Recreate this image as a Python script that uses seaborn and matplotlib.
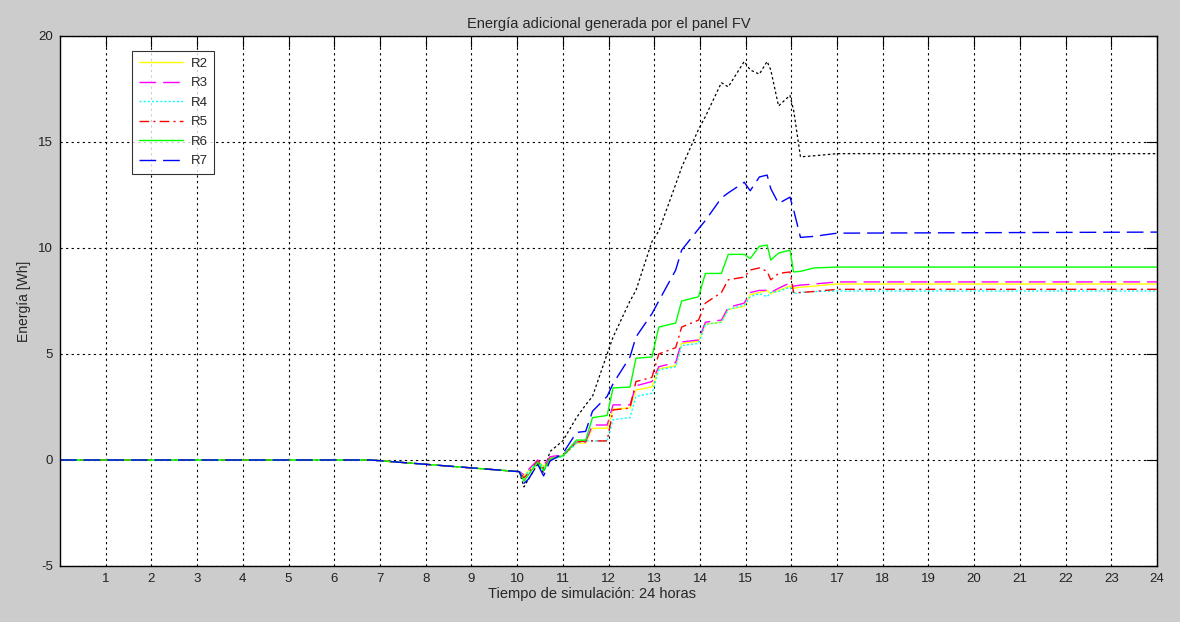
import pandas as pd
import matplotlib.pyplot as plt
import seaborn as sns

# datos
t = [0, 6.8, 10.05, 10.15, 10.25, 10.45, 10.58, 10.72, 11.0, 11.3, 11.5, 11.65,
     11.97, 12.1, 12.47, 12.6, 12.95, 13.1, 13.47, 13.6, 13.97, 14.12, 14.47, 14.62,
     14.97, 15.1, 15.3, 15.47, 15.55, 15.72, 15.97, 16.05, 16.2, 16.5, 17.0, 24.0]

r2 = [0, 0, -0.55, -0.75, -0.5, -0.05, -0.3, 0.1, 0.2, 0.8, 0.8, 1.5,
      1.5, 2.4, 2.45, 3.3, 3.45, 4.3, 4.45, 5.5, 5.6, 6.4, 6.5, 7.1,
      7.25, 7.8, 7.9, 8.0, 7.85, 8.0, 8.2, 8.1, 8.15, 8.2, 8.3, 8.3]
r3 = [0, 0, -0.55, -0.7, -0.45, 0.0, -0.25, 0.15, 0.25, 0.85, 0.85, 1.65,
      1.65, 2.6, 2.6, 3.5, 3.7, 4.4, 4.6, 5.57, 5.66, 6.5, 6.6, 7.2,
      7.4, 7.9, 8.0, 8.0, 7.9, 8.1, 8.35, 8.2, 8.25, 8.3, 8.4, 8.4]
r4 = [0, 0, -0.55, -0.8, -0.55, -0.05, -0.35, 0.05, 0.15, 0.8, 0.9, 0.9,
      0.9, 1.9, 2.0, 3.0, 3.15, 4.25, 4.4, 5.4, 5.5, 6.4, 6.5, 7.1,
      7.3, 7.7, 7.85, 7.7, 7.9, 7.95, 8.15, 7.85, 7.9, 7.95, 7.97, 7.97]
r5 = [0, 0, -0.55, -0.85, -0.6, -0.05, -0.4, 0.05, 0.2, 0.85, 0.9, 0.9,
      0.9, 2.36, 2.45, 3.7, 3.9, 5.0, 5.3, 6.27, 6.6, 7.4, 7.9, 8.5,
      8.63, 8.96, 9.06, 8.9, 8.5, 8.8, 8.87, 7.9, 7.9, 7.95, 8.05, 8.05]
r6 = [0, 0, -0.55, -1.0, -0.7, -0.1, -0.5, 0.05, 0.2, 0.94, 0.94, 2.0,
      2.1, 3.4, 3.44, 4.8, 4.86, 6.27, 6.46, 7.5, 7.7, 8.8, 8.8, 9.7,
      9.7, 9.5, 10.08, 10.14, 9.43, 9.76, 9.9, 8.87, 8.9, 9.06, 9.1, 9.1]
r7 = [0, 0, -0.55, -1.1, -0.9, -0.2, -0.75, -0.05, 0.3, 1.3, 1.35, 2.3,
      3.0, 3.6, 4.86, 5.8, 6.9, 7.5, 8.96, 9.9, 10.9, 11.3, 12.36, 12.6,
      13.1, 12.7, 13.35, 13.44, 12.8, 12.1, 12.4, 11.8, 10.5, 10.55, 10.7, 10.75]
r8 = [0, 0, -0.55, -1.27, -0.9, -0.2, -0.6, 0.4, 0.9, 2.0, 2.6, 3.0,
      5.0, 5.8, 7.5, 8.0, 10.3, 10.8, 13.0, 13.8, 15.6, 16.2, 17.8, 17.6,
      18.8, 18.4, 18.2, 18.8, 18.4, 16.7, 17.2, 16.5, 14.3, 14.35, 14.45, 14.45]

series = ['R2', 'R3', 'R4', 'R5', 'R6', 'R7']
valores = [r2, r3, r4, r5, r6, r7]
colores = ['#ffff00', '#ff00ff', '#00ffff', '#ff0000', '#00ff00', '#0000ff']
estilos = ['-', (0, (12, 5)), (0, (1.5, 1.5)), (0, (7, 3, 1.5, 3)), '-', (0, (12, 5))]

df = pd.DataFrame({'t': t, 'R8': r8})
for nombre, v in zip(series, valores):
    df[nombre] = v

sns.set_style('white')
plt.rcParams['font.family'] = ['Liberation Sans', 'DejaVu Sans']
plt.rcParams['axes.unicode_minus'] = False

fig = plt.figure(figsize=(11.8, 6.22), dpi=100, facecolor='#cccccc')
ax = fig.add_axes([60 / 1180, 1 - 566 / 622, 1097 / 1180, 530 / 622])
ax.set_facecolor('white')

# curva negra (sin leyenda)
sns.lineplot(data=df, x='t', y='R8', color='black', linewidth=0.9,
             linestyle=(0, (2, 2)), ax=ax, label='_nolegend_')

for nombre, c, ls in zip(series, colores, estilos):
    sns.lineplot(data=df, x='t', y=nombre, color=c, linewidth=1.0,
                 linestyle=ls, ax=ax, label=nombre)

ax.set_xlim(0, 24)
ax.set_ylim(-5, 20)
ax.set_xticks(range(1, 25))
ax.set_yticks([-5, 0, 5, 10, 15, 20])
ax.grid(True, color='black', linestyle=(0, (2, 3)), linewidth=0.8)
ax.tick_params(direction='in', length=8, top=True, right=True, labelsize=9.5,
               colors='black', labelcolor='#222222', pad=5)
for s in ax.spines.values():
    s.set_color('black')
    s.set_linewidth(1.0)

ax.set_title('Energía adicional generada por el panel FV', fontsize=10.5, pad=6)
ax.set_xlabel('Tiempo de simulación: 24 horas', fontsize=10.5)
ax.xaxis.set_label_coords((592 - 60) / 1097, -0.04)
ax.set_ylabel('Energía [Wh]', fontsize=10)
ax.yaxis.set_label_coords(-0.026, 0.5)

leg = ax.legend(loc='upper left', bbox_to_anchor=(0.066, 0.972), fontsize=9.5,
                handlelength=3.3, frameon=True, fancybox=False, borderpad=0.5,
                labelspacing=0.55, handletextpad=0.6, borderaxespad=0)
leg.get_frame().set_edgecolor('black')
leg.get_frame().set_linewidth(0.8)

plt.savefig('out.png', dpi=100, facecolor=fig.get_facecolor())
